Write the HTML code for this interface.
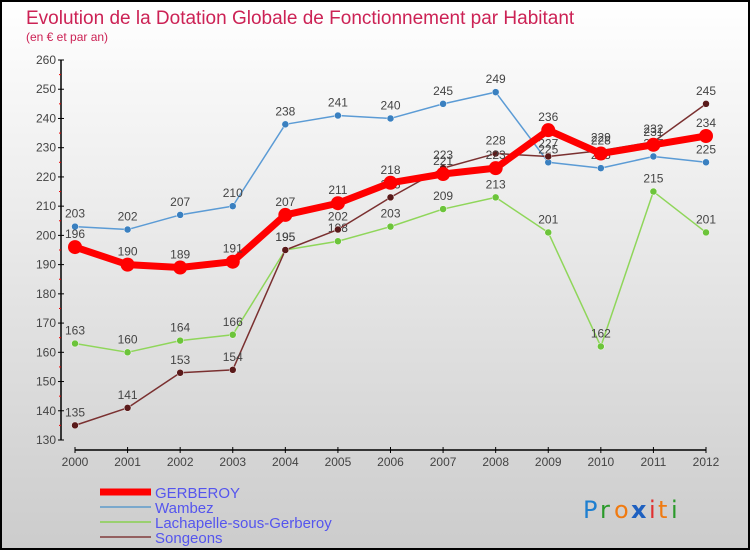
<!DOCTYPE html>
<html><head><meta charset="utf-8"><style>
body{margin:0;width:750px;height:550px;overflow:hidden;font-family:"Liberation Sans",sans-serif}
</style></head><body>
<svg width="750" height="550" xmlns="http://www.w3.org/2000/svg">
<defs><linearGradient id="bg" x1="0" y1="0" x2="0" y2="1"><stop offset="0" stop-color="#ffffff"/><stop offset="1" stop-color="#cccccc"/></linearGradient></defs>
<rect x="1" y="1" width="748" height="548" fill="url(#bg)" stroke="#000" stroke-width="2"/>
<text x="26" y="24" font-size="19" fill="#cc2255">Evolution de la Dotation Globale de Fonctionnement par Habitant</text>
<text x="26" y="41" font-size="12" fill="#cc2255">(en € et par an)</text>
<g id="axes"></g><g id="series"></g><g id="legend"></g>
<g font-size="24" font-family="'DejaVu Sans',sans-serif">
<text x="583" y="518" fill="#1e7fd0">P</text><text x="600" y="518" fill="#2a9a2a">r</text><text x="614" y="518" fill="#f07a10">o</text><text x="631" y="518" fill="#1e60c0" font-weight="bold">x</text><text x="649" y="518" fill="#e03030">i</text><text x="658" y="518" fill="#f07a10">t</text><text x="671" y="518" fill="#2a9a2a">i</text></g>
</svg>
<script>
const years=["2000","2001","2002","2003","2004","2005","2006","2007","2008","2009","2010","2011","2012"];
const gerberoy=[196,190,189,191,207,211,218,221,223,236,228,231,234];
const wambez=[203,202,207,210,238,241,240,245,249,225,223,227,225];
const lachapelle=[163,160,164,166,195,198,203,209,213,201,162,215,201];
const songeons=[135,141,153,154,195,202,213,223,228,227,229,232,245];
const yTicks=[130,140,150,160,170,180,190,200,210,220,230,240,250,260];
const NS="http://www.w3.org/2000/svg";
const xs=i=>75+i*(706-75)/12;
const ys=v=>60+(260-v)*(380/130);
function mk(p,t,a){const e=document.createElementNS(NS,t);for(const k in a)e.setAttribute(k,a[k]);p.appendChild(e);return e;}
const ax=document.getElementById('axes');
let e=mk(ax,'line',{x1:61,y1:60,x2:61,y2:440,stroke:'#000','stroke-width':1.5});

e=mk(ax,'line',{x1:75,y1:450,x2:706,y2:450,stroke:'#000','stroke-width':1.5});

yTicks.forEach((v,i)=>{mk(ax,'line',{x1:58,y1:ys(v),x2:64,y2:ys(v),stroke:'#000'});
if(i<yTicks.length-1)mk(ax,'line',{x1:59,y1:ys(v+5),x2:61,y2:ys(v+5),stroke:'#e00'});
const t=mk(ax,'text',{x:56,y:ys(v)+4,'text-anchor':'end','font-size':12,fill:'#444'});t.textContent=v;
});
years.forEach((y,i)=>{mk(ax,'line',{x1:xs(i),y1:447,x2:xs(i),y2:453,stroke:'#000'});
const t=mk(ax,'text',{x:xs(i),y:466,'text-anchor':'middle','font-size':12,fill:'#444'});t.textContent=y;
});
const series=[["wambez",wambez,"#5b9bd5","#3a80c0",1.5,3.5],["lachapelle",lachapelle,"#8fd65a","#6cc43a",1.5,3.5],["songeons",songeons,"#7a3030","#5a1a1a",1.5,3.5],["gerberoy",gerberoy,"#ff0000","#ff0000",7,7]];
const sg=document.getElementById('series');
series.forEach(([n,d,c,mc,w,r])=>{const g=mk(sg,'g',{});

const pl=mk(g,'polyline',{points:d.map((v,i)=>xs(i)+','+ys(v)).join(' '),fill:'none',stroke:c,'stroke-width':w,'stroke-linejoin':'round'});

d.forEach((v,i)=>{const p=mk(g,'circle',{cx:xs(i),cy:ys(v),r:r,fill:mc,stroke:n=='gerberoy'?'none':'#fff','stroke-width':0.5});

const t=mk(g,'text',{x:xs(i),y:ys(v)-9,'text-anchor':'middle','font-size':12,fill:'#444'});t.textContent=v;
});});
const lg=document.getElementById('legend');
[["GERBEROY","#ff0000",7],["Wambez","#7aa8cc",2],["Lachapelle-sous-Gerberoy","#9ad070",2],["Songeons","#946060",2]].forEach(([n,c,w],i)=>{
const y=492+i*15;const g=mk(lg,'g',{});
mk(g,'line',{x1:100,y1:y,x2:151,y2:y,stroke:c,'stroke-width':w});
const t=mk(g,'text',{x:155,y:y+6,'font-size':15,fill:'#5555ee'});t.textContent=n;});
</script>
</body></html>
